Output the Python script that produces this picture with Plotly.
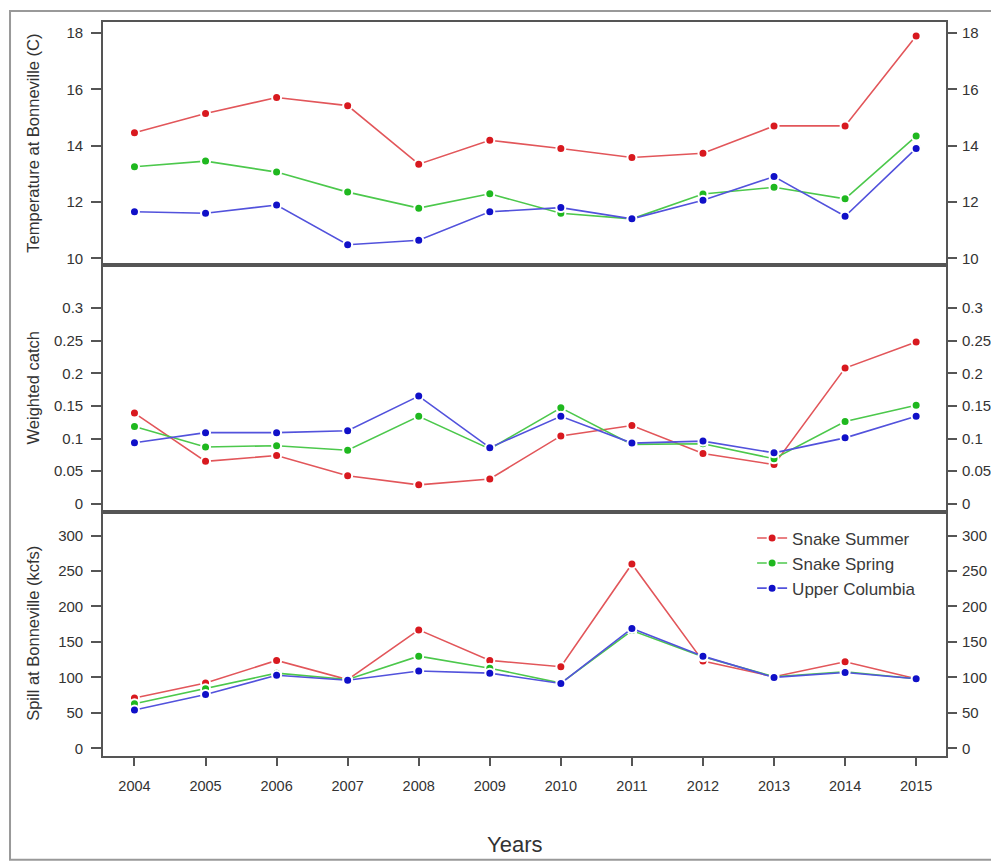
import plotly.graph_objects as go

years = list(range(2004, 2016))
series_names = ["Snake Summer", "Snake Spring", "Upper Columbia"]

temp_summer = [14.46, 15.14, 15.71, 15.42, 13.34, 14.19, 13.90, 13.58, 13.73, 14.70, 14.70, 17.89]
temp_spring = [13.25, 13.45, 13.06, 12.35, 11.78, 12.29, 11.60, 11.40, 12.28, 12.52, 12.11, 14.34]
temp_upper = [11.65, 11.60, 11.89, 10.48, 10.64, 11.65, 11.80, 11.40, 12.06, 12.90, 11.49, 13.90]

catch_summer = [0.139, 0.065, 0.074, 0.043, 0.029, 0.038, 0.104, 0.120, 0.077, 0.060, 0.208, 0.248]
catch_spring = [0.1185, 0.087, 0.089, 0.082, 0.134, 0.084, 0.147, 0.091, 0.092, 0.069, 0.126, 0.151]
catch_upper = [0.0935, 0.109, 0.109, 0.112, 0.165, 0.086, 0.134, 0.093, 0.096, 0.078, 0.101, 0.134]

spill_summer = [71, 92, 124, 97, 167, 124, 115, 260, 123, 101, 122, 98]
spill_spring = [63, 84, 106, 97, 130, 113, 92, 166, 129, 101, 108, 98]
spill_upper = [54, 76, 103, 96, 109, 106, 91.5, 169, 130, 100, 107, 98]

temp_ticks = [10, 12, 14, 16, 18]
catch_ticks = [0, 0.05, 0.1, 0.15, 0.2, 0.25, 0.3]
catch_ticktext = ["0", "0.05", "0.1", "0.15", "0.2", "0.25", "0.3"]
spill_ticks = [0, 50, 100, 150, 200, 250, 300]
year_ticks = years

line_colors = ["#e2565a", "#4cc84c", "#5252dc"]
marker_colors = ["#d8191f", "#1fb81f", "#1010c8"]

FONT = "Liberation Sans, Arial, sans-serif"
AXC = "#555555"
TXT = "#333333"

fig = go.Figure()

panels = [
    ("y3", [temp_summer, temp_spring, temp_upper]),
    ("y2", [catch_summer, catch_spring, catch_upper]),
    ("y", [spill_summer, spill_spring, spill_upper]),
]
xrefs = {"y3": "x3", "y2": "x2", "y": "x"}

for yref, data in panels:
    for i, vals in enumerate(data):
        fig.add_trace(go.Scatter(
            x=years, y=vals, mode="lines+markers",
            name=series_names[i],
            xaxis=xrefs[yref], yaxis=yref,
            line=dict(color=line_colors[i], width=1.6),
            marker=dict(color=marker_colors[i], size=9,
                        line=dict(color="white", width=2)),
            showlegend=(yref == "y"),
        ))

xrange = [2003.557, 2015.42]
common_x = dict(range=xrange, showline=True, mirror=True, linecolor=AXC,
                linewidth=1.6, showgrid=False, zeroline=False)
common_y = dict(showline=True, mirror=True, linecolor=AXC, linewidth=1.6,
                showgrid=False, zeroline=False, ticks="outside", ticklen=10,
                tickwidth=2, tickcolor=AXC, ticklabelstandoff=5,
                tickfont=dict(family=FONT, size=15, color=TXT))
right_y = dict(common_y, side="right", showline=False, ticklabelstandoff=2)

d1 = [0.0, 0.333]
d2 = [0.333, 0.6685]
d3 = [0.6685, 1.0]

fig.update_layout(
    width=999, height=864,
    margin=dict(l=95, r=61, t=12, b=116),
    paper_bgcolor="white", plot_bgcolor="white",
    font=dict(family=FONT, color=TXT),
    xaxis=dict(common_x, anchor="y", domain=[0, 1], ticks="outside", ticklen=8,
               tickwidth=2, tickcolor=AXC, tickvals=year_ticks,
               ticklabelstandoff=8,
               tickfont=dict(family=FONT, size=14.5, color=TXT)),
    xaxis2=dict(common_x, anchor="y2", matches="x", showticklabels=False),
    xaxis3=dict(common_x, anchor="y3", matches="x", showticklabels=False),
    yaxis=dict(common_y, domain=d1, anchor="x", range=[-10.8, 333.8],
               tickvals=spill_ticks),
    yaxis2=dict(common_y, domain=d2, anchor="x2", range=[-0.012, 0.3655],
                tickvals=catch_ticks, ticktext=catch_ticktext),
    yaxis3=dict(common_y, domain=d3, anchor="x3", range=[9.75, 18.39],
                tickvals=temp_ticks),
    yaxis4=dict(right_y, domain=d1, anchor="x", overlaying="y",
                range=[-10.8, 333.8], tickvals=spill_ticks),
    yaxis5=dict(right_y, domain=d2, anchor="x2", overlaying="y2",
                range=[-0.012, 0.3655], tickvals=catch_ticks,
                ticktext=catch_ticktext),
    yaxis6=dict(right_y, domain=d3, anchor="x3", overlaying="y3",
                range=[9.75, 18.39], tickvals=temp_ticks),
    legend=dict(x=0.770, y=0.321, xanchor="left", yanchor="top",
                bgcolor="rgba(255,255,255,0)",
                font=dict(family=FONT, size=17, color="#3a3a3a"),
                tracegroupgap=0, itemwidth=30),
)

# dummy invisible traces so right-side axes are rendered
for ya, xa in [("y4", "x"), ("y5", "x2"), ("y6", "x3")]:
    fig.add_trace(go.Scatter(x=[None], y=[None], xaxis=xa, yaxis=ya,
                             showlegend=False, hoverinfo="skip"))

annots = [
    dict(text="Temperature at Bonneville (C)", x=-0.083, y=(d3[0] + d3[1]) / 2),
    dict(text="Weighted catch", x=-0.083, y=(d2[0] + d2[1]) / 2),
    dict(text="Spill at Bonneville (kcfs)", x=-0.083, y=(d1[0] + d1[1]) / 2),
]
for a in annots:
    fig.add_annotation(xref="paper", yref="paper", x=a["x"], y=a["y"],
                       text=a["text"], textangle=-90, showarrow=False,
                       xanchor="center", yanchor="middle",
                       font=dict(family=FONT, size=16.5, color=TXT))

fig.add_annotation(xref="paper", yref="paper", x=0.4887, y=-0.121,
                   text="Years", showarrow=False, xanchor="center",
                   yanchor="middle", font=dict(family=FONT, size=22, color=TXT))

fig.add_shape(type="rect", xref="paper", yref="paper",
              x0=-0.1103, x1=1.0558, y0=-0.1413, y1=1.015,
              line=dict(color="#999999", width=2), fillcolor="rgba(0,0,0,0)",
              layer="below")

fig.write_html("out.html")
